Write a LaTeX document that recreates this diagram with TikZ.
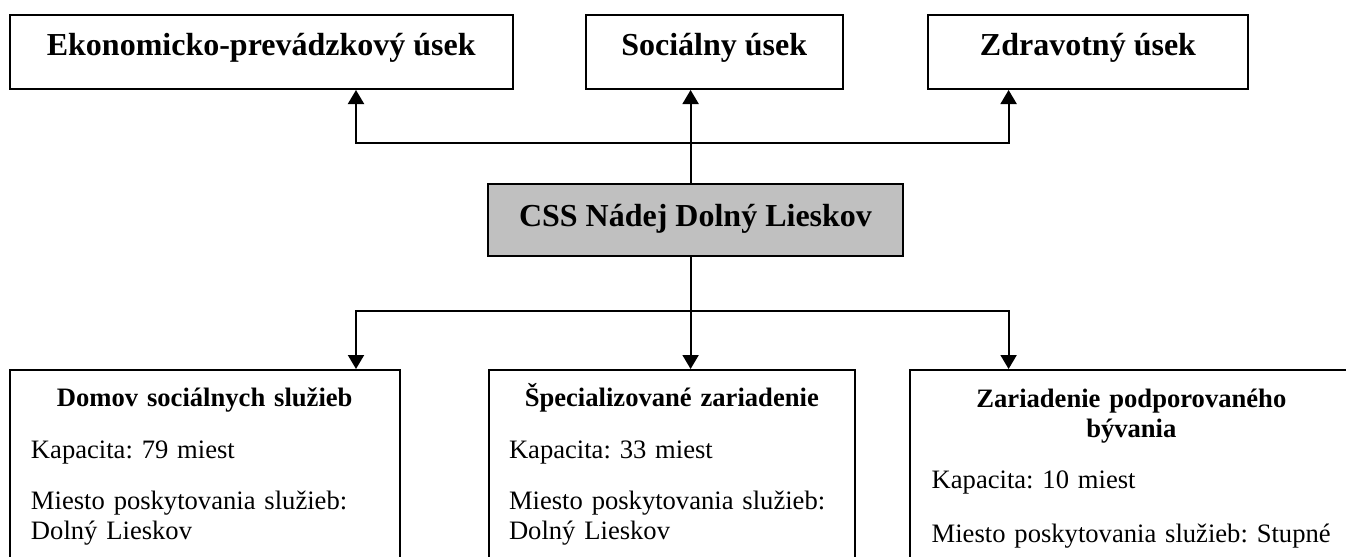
\documentclass[tikz,border=0pt]{standalone}
\usepackage{fontspec}
\setmainfont{Liberation Serif}
\frenchspacing
\usetikzlibrary{arrows.meta,calc}
\definecolor{sediva}{RGB}{192,192,192}
\tikzset{main base/.style={draw,line width=1pt,inner sep=0pt,text centered, }, }
\tikzset{main node/.style={rectangle,main base,
    font=\fontsize{16}{19}\selectfont\bfseries,
    text height=20.25pt, text depth=16.75pt}, }
\tikzset{main node2/.style={main node,fill=sediva,
    text height=21.35pt, text depth=14.65pt}, }
\tikzset{main node3/.style={rectangle,main base,align=left,inner xsep=10.5pt,
    font=\fontsize{13.3}{15}\selectfont,
    text height=18.35pt, text depth=116.65pt}, }
\tikzset{linea/.style={-{Triangle[length=7pt,width=8pt]},line width=1pt,draw}}

\begin{document}
\begin{tikzpicture}[x=0.5pt,y=-0.5pt]
  \useasboundingbox (0,0) rectangle (1346,557);
  %
  \node[main node2, minimum width=207.5pt] (1) at (695.5,220) {CSS Nádej Dolný Lieskov};
  %
  \node[main node, minimum width=251.25pt] (2) at (261.25,52) {Ekonomicko-prevádzkový úsek};
  \node[main node, minimum width=128.25pt] (3) at (714.25,52) {Sociálny úsek};
  \node[main node, minimum width=160pt] (4) at (1088,52) {Zdravotný úsek};
  %
  \node[main node3, text width=173.75pt] (5) at (204.75,505)
    {\centering\textbf{Domov sociálnych služieb}\par\vspace{10.8pt}
     \raggedright Kapacita: 79 miest\par\vspace{10.8pt}
     Miesto poskytovania služieb:\\ Dolný Lieskov};
  \node[main node3, text width=162.8pt, inner xsep=10pt] (6) at (671.8,505)
    {\centering\textbf{Špecializované zariadenie}\par\vspace{10.8pt}
     \raggedright Kapacita: 33 miest\par\vspace{10.8pt}
     Miesto poskytovania služieb:\\ Dolný Lieskov};
  \node[main node3, text width=199.65pt, inner xsep=11pt,
        text height=18.85pt, text depth=116.15pt] (7) at (1131.35,505)
    {\centering\textbf{Zariadenie podporovaného\\ bývania}\par\vspace{10.6pt}
     \raggedright Kapacita: 10 miest\par\vspace{11.8pt}
     \mbox{Miesto poskytovania služieb: Stupné}};
  %
  \coordinate (a1) at (356,143);
  \coordinate (a2) at (690.6,143);
  \coordinate (a3) at (1008.6,143);
  \coordinate (b1) at (356,311);
  \coordinate (b2) at (690.6,311);
  \coordinate (b3) at (1008.6,311);
  %
  \path[linea] (1.north -| a2) -- (a2 |- 3.south);
  \foreach \x/\y in {a1/2,a3/4}
    \path[linea] (a2) -- (\x) -- (\x |- \y.south);
  \path[linea] (1.south -| b2) -- (b2 |- 6.north);
  \foreach \x/\y in {b1/5,b3/7}
    \path[linea] (b2) -- (\x) -- (\x |- \y.north);
\end{tikzpicture}
\end{document}
